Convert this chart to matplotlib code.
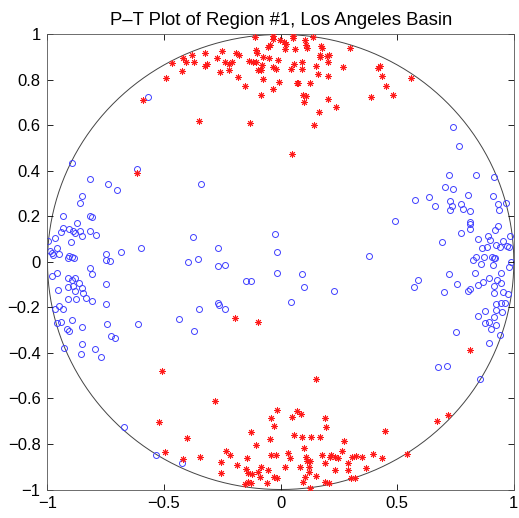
import numpy as np
import matplotlib
matplotlib.use("Agg")
import matplotlib.pyplot as plt

plt.rcParams['font.family'] = ['Liberation Sans', 'DejaVu Sans']
plt.rcParams['axes.unicode_minus'] = True

title = "P\u2013T Plot of Region #1, Los Angeles Basin"
xticks = [-1, -0.5, 0, 0.5, 1]
xticklabels = ["\u22121", "\u22120.5", "0", "0.5", "1"]
yticks = [-1, -0.8, -0.6, -0.4, -0.2, 0, 0.2, 0.4, 0.6, 0.8, 1]
yticklabels = ["\u22121", "\u22120.8", "\u22120.6", "\u22120.4", "\u22120.2", "0",
               "0.2", "0.4", "0.6", "0.8", "1"]

# T axes (red asterisks)
t_x = [-0.49, -0.468, -0.425, -0.419, -0.407, -0.38, -0.371, -0.323, -0.323, -0.316,
       -0.275, -0.251, -0.26, -0.239, -0.222, -0.222, -0.209, -0.193, -0.179, -0.181,
       -0.153, -0.134, -0.119, -0.104, -0.104, -0.102, -0.111, -0.097, -0.084, -0.08,
       -0.076, -0.076, -0.054, -0.05, -0.033, -0.033, -0.033, -0.021, -0.033, -0.086,
       -0.01, -0.007, -0.35, -0.13, -0.59, -0.616,
       -0.004, 0.013, 0.024, 0.053, 0.053, 0.017, 0.06, 0.103, 0.11, 0.113,
       0.138, 0.171, 0.179, 0.296, -0.047, 0.046, 0.056, 0.093, 0.093, 0.15,
       0.167, 0.17, 0.198, 0.206, 0.203, 0.16, 0.203, 0.267, 0.417, 0.427,
       0.436, 0.45, 0.481, 0.56, 0.07, 0.076, 0.127, 0.096, 0.107, 0.1,
       0.203, 0.236, 0.164, 0.143, 0.389, 0.048,
       -0.197, -0.099, 0.811,
       -0.509, -0.28, -0.521, -0.403, -0.498, -0.419, -0.344, -0.254, -0.254, -0.236,
       -0.216, -0.187, -0.143, -0.15, -0.129, -0.104, -0.124, -0.14, -0.086, -0.097,
       -0.09, -0.054, -0.047, -0.043, -0.029, -0.016, -0.043, -0.018, -0.029, -0.014,
       -0.057, -0.154, -0.14, -0.126,
       0.153, 0.05, 0.07, 0.086, 0.192, 0.196, 0.057, 0.093, 0.132, 0.167,
       0.271, 0.449, 0.671, 0.717, 0.543, 0.031, 0.039, 0.1, 0.107, 0.114,
       0.124, 0.121, 0.121, 0.177, 0.192, 0.21, 0.217, 0.234, 0.246, 0.263,
       0.287, 0.287, 0.307, 0.324, 0.348, 0.367, 0.395, 0.436, 0.017, 0.081,
       0.231, 0.103, 0.096, 0.15, 0.189, 0.206, 0.303, 0.317, 0.127]
t_y = [0.807, 0.873, 0.84, 0.895, 0.878, 0.91, 0.878, 0.917, 0.863, 0.869,
       0.895, 0.929, 0.836, 0.878, 0.869, 0.844, 0.88, 0.92, 0.91, 0.812,
       0.774, 0.885, 0.878, 0.878, 0.932, 0.92, 0.99, 0.844, 0.844, 0.866,
       0.9, 0.804, 0.946, 0.895, 0.995, 0.979, 0.856, 0.848, 0.759, 0.734,
       0.888, 0.793, 0.62, 0.612, 0.712, 0.39,
       0.976, 0.966, 0.958, 0.993, 0.983, 0.935, 0.935, 0.976, 0.954, 0.939,
       0.988, 0.949, 0.942, 0.939, 0.954, 0.848, 0.869, 0.878, 0.848, 0.863,
       0.91, 0.9, 0.905, 0.91, 0.88, 0.825, 0.818, 0.858, 0.851, 0.863,
       0.819, 0.774, 0.734, 0.807, 0.785, 0.788, 0.785, 0.734, 0.73, 0.705,
       0.716, 0.683, 0.661, 0.604, 0.724, 0.475,
       -0.246, -0.262, -0.385,
       -0.479, -0.611, -0.705, -0.772, -0.836, -0.866, -0.858, -0.878, -0.926, -0.829,
       -0.848, -0.892, -0.863, -0.911, -0.746, -0.804, -0.933, -0.926, -0.9, -0.924,
       -0.944, -0.914, -0.778, -0.687, -0.72, -0.651, -0.848, -0.848, -0.944, -0.951,
       -0.973, -0.976, -0.966, -0.97,
       -0.514, -0.68, -0.654, -0.668, -0.684, -0.727, -0.76, -0.771, -0.771, -0.771,
       -0.787, -0.742, -0.699, -0.673, -0.844, -0.838, -0.86, -0.819, -0.856, -0.873,
       -0.873, -0.9, -0.924, -0.848, -0.882, -0.856, -0.848, -0.858, -0.86, -0.829,
       -0.885, -0.914, -0.858, -0.853, -0.858, -0.907, -0.844, -0.863, -0.902, -0.902,
       -0.914, -0.944, -0.968, -0.939, -0.968, -0.973, -0.951, -0.951, -0.992]

# P axes (blue circles)
p_x = [-0.569, -0.894, -0.818, -0.618, -0.74, -0.704, -0.85, -0.861, -0.34, -0.933,
       -0.818, -0.807, -0.875, -0.935, -0.943, -0.907, -0.89, -0.883, -0.861, -0.818,
       -0.851, -0.793, -0.968, -0.997, -0.901, -0.961, -0.99, -0.982, -0.976, -0.95,
       -0.907, -0.897, -0.886, -0.911, -0.747, -0.75, -0.733, -0.683, -0.597, -0.377,
       -0.354, -0.396, -0.269, -0.268, -0.818, -0.808, -0.958, -0.982, -0.911, -0.897,
       -0.883, -0.864, -0.914, -0.892, -0.85, -0.883, -0.847, -0.957, -0.751, -0.835,
       -0.911, -0.878, -0.807, -0.747, -0.95, -0.968, -0.935, -0.35, -0.27, -0.266,
       -0.237, -0.897, -0.961, -0.94, -0.743, -0.611, -0.437, -0.851, -0.918, -0.908,
       -0.371, -0.728, -0.711, -0.854, -0.93, -0.797, -0.857, -0.772, -0.671, -0.536,
       -0.425,
       0.489, -0.026, -0.016, 0.377, -0.24, -0.014, 0.091, -0.147, -0.129, 0.099,
       0.228, 0.044,
       0.74, 0.764, 0.72, 0.839, 0.914, 0.704, 0.741, 0.575, 0.638, 0.661,
       0.728, 0.728, 0.736, 0.774, 0.781, 0.802, 0.81, 0.91, 0.931, 0.938,
       0.967, 0.81, 0.813, 0.814, 0.774, 0.693, 0.848, 0.891, 0.898, 0.92,
       0.931, 0.985, 0.924, 0.952, 0.941, 0.97, 0.978, 0.884, 0.862, 0.838,
       0.827, 0.86, 0.874, 0.905, 0.914, 0.92, 0.91, 0.988, 0.981, 0.721,
       0.835, 0.943, 0.895, 0.927, 0.591, 0.571, 0.758, 0.848, 0.867, 0.917,
       0.943, 0.7, 0.802, 0.814, 0.917, 0.952, 0.974, 0.924, 0.946, 0.963,
       0.924, 0.95, 0.878, 0.845, 0.895, 0.878, 0.914, 0.924, 0.903, 0.941,
       0.75, 0.895, 0.675, 0.714, 0.853]
p_y = [0.727, 0.434, 0.363, 0.41, 0.342, 0.316, 0.29, 0.261, 0.342, 0.202,
       0.202, 0.196, 0.173, 0.148, 0.133, 0.145, 0.136, 0.129, 0.138, 0.138,
       0.114, 0.117, 0.104, 0.094, 0.087, 0.063, 0.048, 0.038, 0.031, 0.034,
       0.026, 0.021, 0.019, 0.016, 0.034, 0.009, 0.006, 0.045, 0.063, 0.111,
       0.014, 0.0, 0.063, -0.018, -0.025, -0.054, -0.05, -0.062, -0.069, -0.079,
       -0.072, -0.094, -0.109, -0.105, -0.113, -0.126, -0.135, -0.123, -0.097, -0.16,
       -0.164, -0.163, -0.17, -0.186, -0.193, -0.208, -0.208, -0.208, -0.182, -0.189,
       -0.207, -0.255, -0.269, -0.265, -0.274, -0.274, -0.252, -0.287, -0.296, -0.303,
       -0.303, -0.325, -0.335, -0.36, -0.377, -0.384, -0.404, -0.419, -0.724, -0.848,
       -0.885,
       0.179, 0.123, 0.044, 0.026, -0.015, -0.047, -0.054, -0.082, -0.082, -0.111,
       -0.126, -0.177,
       0.593, 0.51, 0.382, 0.382, 0.375, 0.331, 0.32, 0.271, 0.286, 0.247,
       0.269, 0.229, 0.247, 0.254, 0.232, 0.296, 0.224, 0.291, 0.254, 0.23,
       0.258, 0.177, 0.166, 0.145, 0.129, 0.087, 0.102, 0.113, 0.097, 0.141,
       0.157, 0.116, 0.075, 0.094, 0.067, 0.072, 0.067, 0.067, 0.063, 0.023,
       0.009, -0.009, 0.021, 0.021, 0.019, 0.019, -0.013, -0.001, -0.023, -0.053,
       -0.05, -0.05, -0.072, -0.079, -0.079, -0.109, -0.095, -0.101, -0.089, -0.105,
       -0.091, -0.131, -0.127, -0.119, -0.138, -0.131, -0.141, -0.185, -0.182, -0.182,
       -0.211, -0.221, -0.214, -0.237, -0.262, -0.269, -0.243, -0.277, -0.295, -0.321,
       -0.306, -0.355, -0.463, -0.456, -0.516]

fig = plt.figure(figsize=(5.19, 5.18), dpi=100)
ax = fig.add_axes([0.0915, 0.055, 0.8985, 0.8785])

theta = np.linspace(0, 2 * np.pi, 721)
ax.plot(np.cos(theta), np.sin(theta), color='#444444', linewidth=0.7, zorder=1)

ax.plot(p_x, p_y, linestyle='none', marker='o', markersize=4.3,
        markerfacecolor='none', markeredgecolor='#4040ff', markeredgewidth=0.7, zorder=2)
ax.plot(t_x, t_y, linestyle='none', marker=(8, 2, 0), markersize=4.8,
        markeredgecolor='#ff1a1a', markeredgewidth=0.7, zorder=3)

ax.set_xlim(-1, 1)
ax.set_ylim(-1, 1)
ax.set_xticks(xticks)
ax.set_xticklabels(xticklabels)
ax.set_yticks(yticks)
ax.set_yticklabels(yticklabels)
ax.tick_params(direction='in', top=True, right=True, length=4, width=0.6,
               labelsize=12, pad=5, colors='black')
for s in ax.spines.values():
    s.set_linewidth(0.6)
    s.set_color('#555555')
ax.set_title(title, fontsize=13.3, pad=7)

fig.savefig("out.png", dpi=100)
